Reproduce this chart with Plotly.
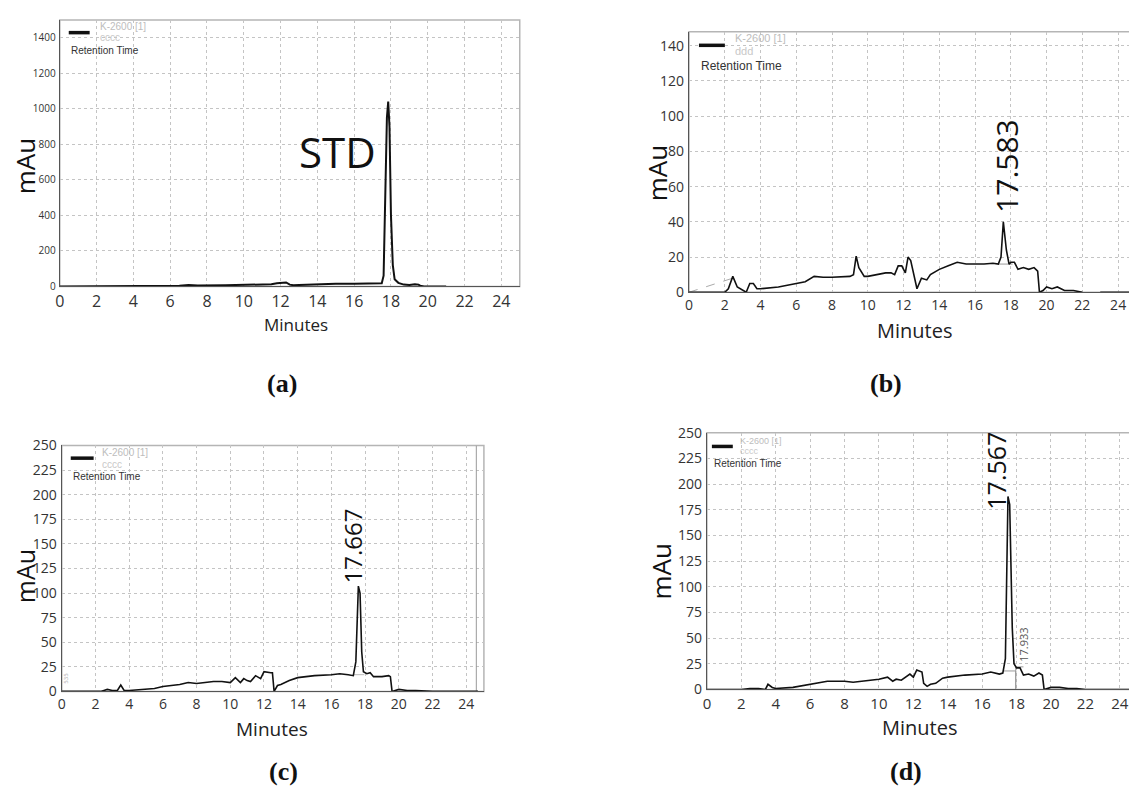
import plotly.graph_objects as go

# screen size and the browser's default 8px body margin
SCREEN_W, SCREEN_H = 1137, 798
OFF = 8
W, H = SCREEN_W - OFF, SCREEN_H - OFF

# ---------------- data ----------------
a_time = [0, 1, 2, 3, 3.3, 3.5, 5, 5.5, 6.5, 7, 7.5, 9, 10, 11, 11.5, 11.8, 12.0, 12.3, 12.5,
          12.7, 13, 14, 15, 16, 17, 17.5, 17.6, 17.7, 17.78, 17.85, 17.92, 18.0, 18.1, 18.2,
          18.4, 18.7, 19.0, 19.3, 19.5, 19.6, 19.8, 20.5, 21.0]
a_mau = [0, 0, 0, 0, 0, 2, 2, 4, 4, 8, 5, 6, 7, 8, 12, 18, 20, 22, 10,
         6, 8, 12, 15, 15, 16, 18, 60, 500, 950, 1040, 900, 400, 120, 40,
         20, 10, 8, 12, 10, 3, 0, 0, 0]

b_time = [0, 1, 2.0, 2.2, 2.45, 2.7, 3.0, 3.2, 3.4, 3.6, 3.8, 4, 5, 5.5, 6, 6.5, 7, 7.5, 8, 9,
          9.2, 9.35, 9.5, 9.8, 10, 10.5, 11, 11.3, 11.5, 11.7, 11.9, 12.1, 12.25, 12.4, 12.6,
          12.75, 13, 13.3, 13.5, 14, 14.5, 15, 15.5, 16, 16.5, 17, 17.3, 17.45, 17.58, 17.75,
          17.9, 18, 18.2, 18.4, 18.7, 19, 19.3, 19.5, 19.6, 19.8, 20, 20.3, 20.6, 21, 21.5, 22]
b_mau = [0, 0, 0, 2, 9, 3, 1, 0, 5, 5, 2, 2, 3, 4, 5, 6, 9, 8.5, 8.5, 9,
         10, 20.5, 14, 9, 9, 10, 11, 11, 10, 15, 15, 11, 20, 18, 8,
         2, 8, 7, 10, 13, 15, 17, 16, 16, 16, 16.5, 16, 20, 40, 24,
         16, 17, 17, 13, 14, 13, 14, 12, 0, 1, 3, 2, 3, 1, 1, 0]
b_tail_time = [23.0, 25.0]
b_tail_mau = [0, 0]
b_base_time = [0, 2.45]
b_base_mau = [0, 8]
b_int_time = [17.3, 18.1]
b_int_mau = [16, 16]

c_time = [0, 1, 2.3, 2.5, 2.7, 3, 3.3, 3.5, 3.7, 4, 5, 5.5, 6, 6.5, 7, 7.5, 8, 8.5, 9, 9.5,
          10, 10.3, 10.6, 10.8, 11, 11.2, 11.5, 11.8, 12.0, 12.4, 12.5, 12.6, 12.8, 13, 13.5,
          14, 14.5, 15, 16, 16.5, 17, 17.3, 17.45, 17.6, 17.7, 17.8, 17.9, 18.1, 18.3, 18.5,
          19, 19.4, 19.5, 19.6, 20, 20.5, 21, 22, 24.7]
c_mau = [0, 0, 0, 1, 2, 1, 1, 6.5, 1, 1, 2, 3, 5, 6, 7, 9, 8, 9, 10, 10,
         9, 14, 9, 13, 11, 10, 16, 13, 20, 19, 19, 0, 6, 7, 11,
         14, 15, 16, 17, 18, 17, 16, 30, 107, 100, 40, 20, 18, 19, 15,
         15, 16, 15, 0, 2, 1, 1, 0, 0]
c_int_time = [17.3, 17.95]
c_int_mau = [17, 17]
c_end_time = [24.6, 24.6]
c_end_mau = [0, 250]

d_time = [0, 1, 2, 2.5, 3, 3.4, 3.55, 3.8, 4, 5, 6, 7, 7.5, 8, 8.5, 9, 9.5, 10, 10.5, 10.8,
          11, 11.3, 11.8, 12.0, 12.2, 12.5, 12.6, 12.8, 13, 13.3, 13.7, 14, 15, 16, 16.5, 16.8,
          17, 17.2, 17.35, 17.5, 17.6, 17.75, 17.85, 18.0, 18.2, 18.4, 18.7, 19.0, 19.3, 19.5,
          19.6, 20, 20.5, 21, 21.5, 22, 25]
d_mau = [0, 0, 0, 1, 1, 0, 5, 2, 1, 2, 5, 8, 8, 8, 7, 8, 9, 10, 12, 8,
         10, 9, 15, 12, 19, 17, 6, 3, 5, 6, 11, 12, 14, 15, 17, 16,
         15, 16, 30, 188, 180, 60, 25, 21, 21, 14, 15, 13, 16, 14,
         0, 2, 2, 1, 1, 0, 0]
d_int_time = [17.2, 17.95, 17.95, 17.95, 18.4]
d_int_mau = [18, 18, 0, 22, 22]

x_ticks = list(range(0, 25, 2))
a_yticks = list(range(0, 1401, 200))
b_yticks = list(range(0, 141, 20))
c_yticks = list(range(0, 251, 25))
d_yticks = list(range(0, 251, 25))

peak_labels = ["STD", "17.583", "17.667", "17.567"]
minor_label = "17.933"
panel_tags = ["(a)", "(b)", "(c)", "(d)"]
legend_ids = ["cccc", "ddd", "cccc", "cccc"]

# ---------------- layout helpers (screen pixels -> paper) ----------------
def px(x):
    return (x - OFF) / W

def py(y):
    return 1 - (y - OFF) / H

FONT = "Open Sans"
fig = go.Figure()

LINE = dict(color="#111111", width=1.6)
GRAY = dict(color="#9a9a9a", width=1)

fig.add_trace(go.Scatter(x=a_time, y=a_mau, mode="lines", line=dict(color="#111111", width=2), xaxis="x", yaxis="y", showlegend=False))

fig.add_trace(go.Scatter(x=b_base_time, y=b_base_mau, mode="lines", line=dict(color="#aaaaaa", width=1, dash="dash"), xaxis="x2", yaxis="y2", showlegend=False))
fig.add_trace(go.Scatter(x=b_int_time, y=b_int_mau, mode="lines", line=GRAY, xaxis="x2", yaxis="y2", showlegend=False))
fig.add_trace(go.Scatter(x=b_time, y=b_mau, mode="lines", line=LINE, xaxis="x2", yaxis="y2", showlegend=False))
fig.add_trace(go.Scatter(x=b_tail_time, y=b_tail_mau, mode="lines", line=LINE, xaxis="x2", yaxis="y2", showlegend=False))

fig.add_trace(go.Scatter(x=c_end_time, y=c_end_mau, mode="lines", line=GRAY, xaxis="x3", yaxis="y3", showlegend=False))
fig.add_trace(go.Scatter(x=c_int_time, y=c_int_mau, mode="lines", line=dict(color="#bbbbbb", width=1), xaxis="x3", yaxis="y3", showlegend=False))
fig.add_trace(go.Scatter(x=c_time, y=c_mau, mode="lines", line=LINE, xaxis="x3", yaxis="y3", showlegend=False))

fig.add_trace(go.Scatter(x=d_int_time, y=d_int_mau, mode="lines", line=GRAY, xaxis="x4", yaxis="y4", showlegend=False))
fig.add_trace(go.Scatter(x=d_time, y=d_mau, mode="lines", line=LINE, xaxis="x4", yaxis="y4", showlegend=False))

# panel geometry (screen pixels)
panels = [
    dict(l=55, r=517, t=10, b=283, ymax=1500, xmax=25, yt=a_yticks, yfs=10, xfs=16),
    dict(l=687, r=1136, t=22, b=289, ymax=148, xmax=25, yt=b_yticks, yfs=14, xfs=14),
    dict(l=57, r=481, t=446, b=698, ymax=250, xmax=25.05, yt=c_yticks, yfs=14, xfs=14),
    dict(l=705, r=1137, t=433, b=696, ymax=250, xmax=25, yt=d_yticks, yfs=14, xfs=15),
]

shapes = []
for i, p in enumerate(panels, start=1):
    sx = "" if i == 1 else str(i)
    fig.layout["xaxis" + sx] = dict(
        domain=[px(p["l"]), min(1.0, px(p["r"]))], range=[0, p["xmax"]], anchor="y" + sx,
        tickvals=x_ticks, showgrid=True, gridcolor="#c4c4c4", griddash="dot", gridwidth=1,
        zeroline=False, showline=True, linecolor="#555555", linewidth=1.2,
        tickfont=dict(family=FONT, size=p["xfs"], color="#333333"), ticks="", ticklabelstandoff=0,
        fixedrange=True,
    )
    fig.layout["yaxis" + sx] = dict(
        domain=[py(p["b"]), py(p["t"])], range=[0, p["ymax"]], anchor="x" + sx,
        tickvals=p["yt"], showgrid=True, gridcolor="#c4c4c4", griddash="dot", gridwidth=1,
        zeroline=False, showline=True, linecolor="#555555", linewidth=1.2,
        tickfont=dict(family=FONT, size=p["yfs"], color="#333333"), ticks="", ticklabelstandoff=1,
        fixedrange=True,
    )
    shapes.append(dict(type="rect", xref="x%s domain" % sx, yref="y%s domain" % sx,
                       x0=0, x1=1, y0=0, y1=1, line=dict(color="#b5b5b5", width=1.5), layer="below"))

annotations = []

def ann(text, x, y, size, color="#111111", family=FONT, angle=0, xref="paper", yref="paper", bold=False, **kw):
    if bold:
        text = "<b>%s</b>" % text
    d = dict(text=text, x=x, y=y, xref=xref, yref=yref, showarrow=False,
             font=dict(family=family, size=size, color=color), textangle=angle,
             xanchor="center", yanchor="middle")
    d.update(kw)
    annotations.append(d)

# axis titles
for (xm, ym, fs), (xy_x, xy_y, ms) in zip(
        [(20, 160, 26), (655, 167, 26), (20, 580, 25), (659, 575, 26)],
        [(292, 322, 17), (914, 328, 20), (268, 737, 19), (919, 735, 20)]):
    ann("mAu", px(xm), py(ym), fs, angle=-90)
    ann("Minutes", px(xy_x), py(xy_y), ms, color="#222222")

# panel tags
for tag, (tx, ty) in zip(panel_tags, [(278, 383), (885, 383), (280, 780), (905, 780)]):
    ann(tag, px(tx), py(ty), 26, family="Liberation Serif", bold=True)

# peak labels
ann(peak_labels[0], 15.1, 760, 42, xref="x", yref="y", color="#111111")
ann(peak_labels[1], 17.76, 71.5, 30, angle=-90, xref="x2", yref="y2")
ann(peak_labels[2], 17.26, 148, 24, angle=-90, xref="x3", yref="y3")
ann(peak_labels[3], 16.8, 213, 25, angle=-90, xref="x4", yref="y4")
ann(minor_label, 18.4, 44, 11, angle=-90, xref="x4", yref="y4", color="#555555")
ann("535", 0.25, 14, 6, angle=-90, xref="x3", yref="y3", color="#aaaaaa")

# legend boxes (swatch + grey series name + "Retention Time")
legends = [
    dict(lx0=64, lx1=85, ly=23, tx=93, t1=17, t2=28, rx=64, ry=41, fs=10, rfs=10),
    dict(lx0=697, lx1=723, ly=36, tx=731, t1=29, t2=42, rx=697, ry=57, fs=11, rfs=12),
    dict(lx0=66, lx1=89, ly=459, tx=95, t1=453, t2=465, rx=66, ry=478, fs=10, rfs=10),
    dict(lx0=710, lx1=731, ly=447, tx=736, t1=441, t2=452, rx=710, ry=464, fs=9, rfs=10),
]
for lg, ident in zip(legends, legend_ids):
    shapes.append(dict(type="line", xref="paper", yref="paper",
                       x0=px(lg["lx0"]), x1=px(lg["lx1"]), y0=py(lg["ly"]), y1=py(lg["ly"]),
                       line=dict(color="#111111", width=3.5)))
    ann("K-2600 [1]", px(lg["tx"]), py(lg["t1"]), lg["fs"], color="#bdbdbd", family="Liberation Sans", xanchor="left")
    ann(ident, px(lg["tx"]), py(lg["t2"]), lg["fs"], color="#c8c8c8", family="Liberation Sans", xanchor="left")
    ann("Retention Time", px(lg["rx"]), py(lg["ry"]), lg["rfs"], color="#333333", family="Liberation Sans", xanchor="left")

fig.update_layout(
    width=W, height=H, margin=dict(l=0, r=0, t=0, b=0),
    paper_bgcolor="white", plot_bgcolor="white",
    shapes=shapes, annotations=annotations, showlegend=False,
)

fig.write_html("out.html")
